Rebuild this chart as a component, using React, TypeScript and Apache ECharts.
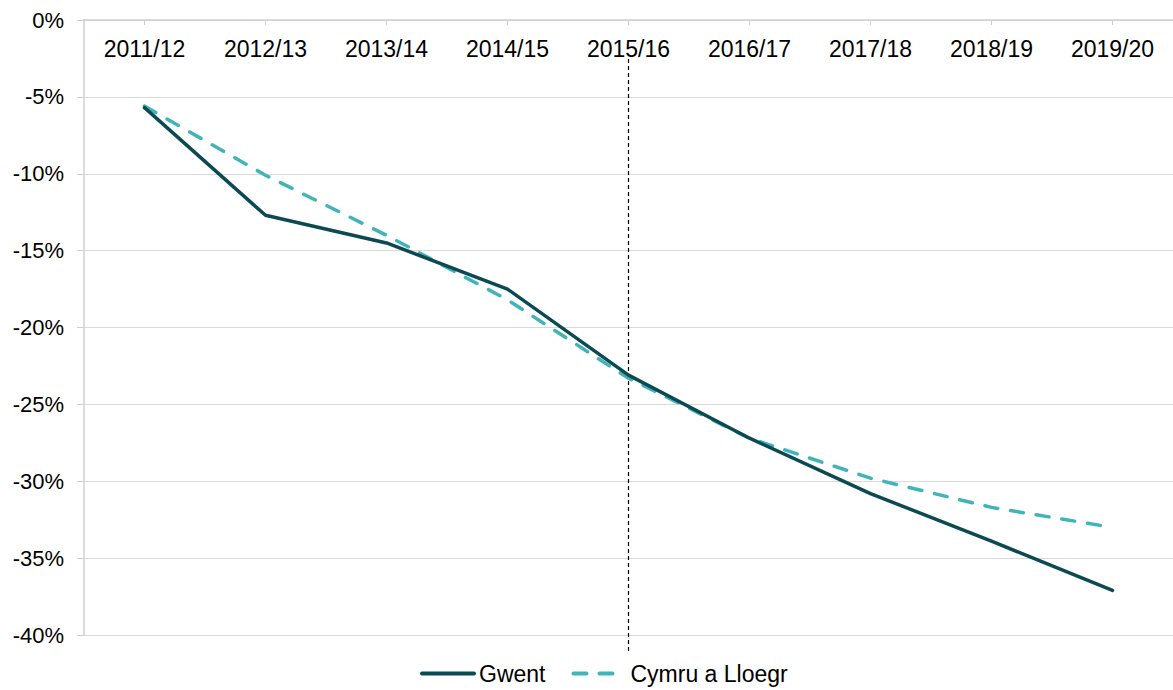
import React, { useEffect, useRef } from "react";
import * as echarts from "echarts";

const categories = ["2011/12", "2012/13", "2013/14", "2014/15", "2015/16", "2016/17", "2017/18", "2018/19", "2019/20"];
const gwent = [-5.7, -12.7, -14.5, -17.5, -23.1, -27.2, -30.8, -33.9, -37.1];
const cymru = [-5.6, -10.1, -14.0, -18.2, -23.3, -27.2, -29.8, -31.7, -33.0];
const markerCategory = "2015/16";

export default function App() {
  const ref = useRef<HTMLDivElement>(null);
  useEffect(() => {
    const chart = echarts.init(ref.current!, undefined, { renderer: "svg" });
    const font = "Liberation Sans, Arial, sans-serif";
    chart.setOption({
      animation: false,
      textStyle: { fontFamily: font },
      grid: { left: 84, right: -5, top: 20, bottom: 55 },
      legend: {
        bottom: 0,
        left: 415,
        itemWidth: 52,
        itemHeight: 14,
        itemGap: 26,
        data: ["Gwent", "Cymru a Lloegr"],
        itemStyle: { opacity: 0, borderWidth: 0 },
        lineStyle: { width: 4, cap: "round" },
        textStyle: { fontSize: 23, color: "#000", fontFamily: font },
      },
      xAxis: {
        type: "category",
        position: "top",
        data: categories,
        boundaryGap: true,
        axisLine: { show: true, lineStyle: { color: "#d0d0d0", width: 1.5 } },
        axisTick: { show: true, inside: true, alignWithLabel: true, length: 5, lineStyle: { color: "#d0d0d0" } },
        axisLabel: { inside: true, margin: 17, fontSize: 23, color: "#000", fontFamily: font },
        splitLine: { show: false },
      },
      yAxis: {
        type: "value",
        min: -40,
        max: 0,
        interval: 5,
        axisLine: { show: true, lineStyle: { color: "#d0d0d0", width: 1.5 } },
        axisTick: { show: true, length: 7, lineStyle: { color: "#d0d0d0" } },
        axisLabel: { formatter: "{value}%", margin: 20, fontSize: 22, color: "#000", fontFamily: font },
        splitLine: { show: true, lineStyle: { color: "#d9d9d9", width: 1.2 } },
      },
      series: [
        {
          name: "Gwent",
          type: "line",
          data: gwent,
          symbol: "none",
          color: "#0b4a52",
          lineStyle: { color: "#0b4a52", width: 3.5, cap: "round", join: "round" },
          z: 3,
        },
        {
          name: "Cymru a Lloegr",
          type: "line",
          data: cymru,
          symbol: "none",
          color: "#41b4b9",
          lineStyle: { color: "#41b4b9", width: 3.5, type: [13, 13], cap: "round", join: "round" },
          z: 2,
        },
        {
          name: "marker",
          type: "custom",
          data: [[markerCategory, 0]],
          z: 1,
          silent: true,
          renderItem: (params: any, api: any) => {
            const top = api.coord([api.value(0), 0]);
            const bottom = api.coord([api.value(0), -40]);
            return {
              type: "line",
              shape: { x1: top[0], y1: top[1] + 39, x2: bottom[0], y2: bottom[1] + 17 },
              style: { stroke: "#000", lineWidth: 1.2, lineDash: [4, 3] },
            };
          },
        },
      ],
    });
    return () => chart.dispose();
  }, []);
  return <div ref={ref} style={{ width: 1173, height: 690, position: "absolute", left: 0, top: 0 }} />;
}
